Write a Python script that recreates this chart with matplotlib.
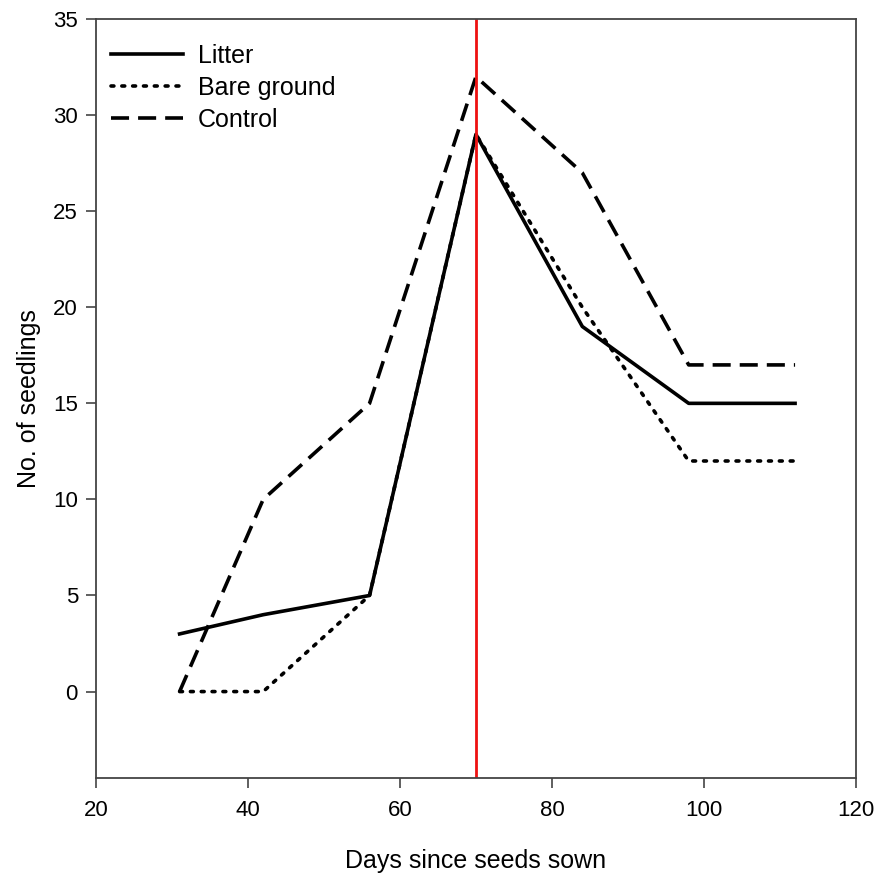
import numpy as np
import matplotlib.pyplot as plt

plt.rcParams['font.family'] = ['Liberation Sans', 'DejaVu Sans']

# days since sowing and seedling counts
days = [31, 42, 56, 70, 84, 98, 112]
litter = [3, 4, 5, 29, 19, 15, 15]
bare = [0, 0, 5, 29, 20, 12, 12]
control = [0, 10, 15, 32, 27, 17, 17]
marker_day = 70

fig = plt.figure(figsize=(8.76, 8.74), dpi=100)
ax = fig.add_axes([0.1096, 0.1098, 0.8674, 0.8684])

ax.plot(days, litter, color='black', lw=2.6, ls='-', label='Litter')
ax.plot(days, bare, color='black', lw=2.6, ls=(0, (0.8, 2.2)), dash_capstyle='round', label='Bare ground')
ax.plot(days, control, color='black', lw=2.6, ls=(0, (5, 2.5)), label='Control')
ax.axvline(marker_day, color='#ee1111', lw=2)

ax.set_xlim(20, 120)
ax.set_ylim(-4.5, 35)
ax.set_xticks(np.arange(20, 121, 20))
ax.set_yticks(np.arange(0, 36, 5))

for s in ax.spines.values():
    s.set_color('#444444')
    s.set_linewidth(1.3)
ax.tick_params(direction='out', length=7, width=1.2, color='#444444', labelsize=16, pad=6)
ax.tick_params(axis='x', pad=9)

ax.set_xlabel('Days since seeds sown', fontsize=18, labelpad=20)
ax.set_ylabel('No. of seedlings', fontsize=18, labelpad=9)

ax.legend(loc='upper left', bbox_to_anchor=(-0.0105, 0.997), frameon=False,
          fontsize=18, handlelength=2.9, borderaxespad=0.5, labelspacing=0.32,
          handletextpad=0.6)

fig.savefig('out.png', dpi=100)
